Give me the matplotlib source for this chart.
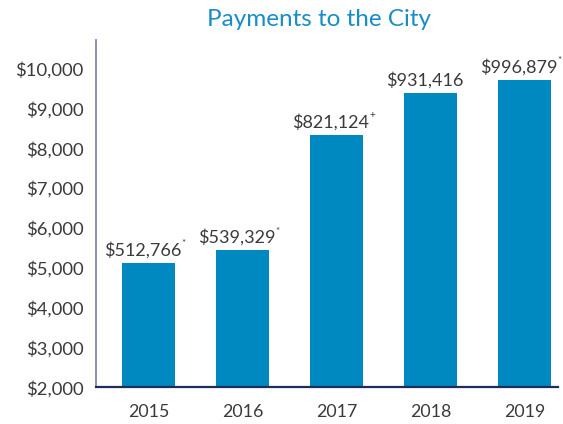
import matplotlib
matplotlib.use("Agg")
import matplotlib.pyplot as plt
from matplotlib.ticker import FuncFormatter
from matplotlib.transforms import offset_copy

years = ["2015", "2016", "2017", "2018", "2019"]
heights = [5130, 5450, 8340, 9400, 9720]
labels = ["$512,766", "$539,329", "$821,124", "$931,416", "$996,879"]
marks = ["*", "*", "+", "", "*"]
yticks = [2000, 3000, 4000, 5000, 6000, 7000, 8000, 9000, 10000]

FONT = "Lato"
TXT = "#3a3a3a"
BAR = "#0089C1"
DPI = 100

fig = plt.figure(figsize=(5.63, 4.24), dpi=DPI)
ax = fig.add_axes([0.1700, 0.0866, 0.8210, 0.8190])

x = list(range(len(years)))
ax.bar(x, heights, width=0.56, color=BAR, zorder=2)
ax.set_xlim(-0.56, 4.356)
ax.set_ylim(2000, 10720)
ax.set_yticks(yticks)
ax.yaxis.set_major_formatter(FuncFormatter(lambda v, p: "${:,.0f}".format(v)))
ax.set_xticks(x)
ax.set_xticklabels(years)
ax.tick_params(axis="y", length=0, labelsize=13.3, colors=TXT, pad=9)
ax.tick_params(axis="x", length=0, labelsize=12.8, colors=TXT, pad=12)
for lab in ax.get_xticklabels() + ax.get_yticklabels():
    lab.set_fontfamily(FONT)

for s in ["top", "right"]:
    ax.spines[s].set_visible(False)
ax.spines["left"].set_color("#7f8aa8")
ax.spines["left"].set_linewidth(1.3)
ax.spines["bottom"].set_color("#1f2d5c")
ax.spines["bottom"].set_linewidth(1.6)

FS = 13.0
fig.canvas.draw()
renderer = fig.canvas.get_renderer()
for xi, h, lab, mk in zip(x, heights, labels, marks):
    tr = offset_copy(ax.transData, fig=fig, x=-4.0, y=5.0, units="points")
    t = ax.text(xi, h, lab, ha="center", va="baseline", fontsize=FS,
                color=TXT, family=FONT, transform=tr)
    if mk:
        bb = t.get_window_extent(renderer)
        base = ax.transData.transform((xi, h))[1] + 5.0 * DPI / 72
        fig.text(bb.x1 + 0.2, base + 0.66 * FS * DPI / 72, mk,
                 transform=None, ha="left", va="center", fontsize=7,
                 color=TXT, family=FONT)

fig.text(0.567, 0.953, "Payments to the City", ha="center", va="center",
         fontsize=17.5, color="#1a8dc8", family=FONT)

fig.savefig("out.png", dpi=DPI)
